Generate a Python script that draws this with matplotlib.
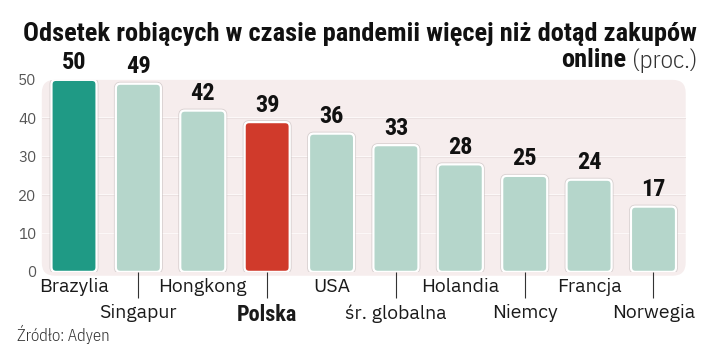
import matplotlib.pyplot as plt
from matplotlib.patches import FancyBboxPatch

countries = ["Brazylia", "Singapur", "Hongkong", "Polska", "USA",
             "śr. globalna", "Holandia", "Niemcy", "Francja", "Norwegia"]
values = [50, 49, 42, 39, 36, 33, 28, 25, 24, 17]
yticks = [0, 10, 20, 30, 40, 50]

LIGHT = ['IBM Plex Sans Condensed', 'Roboto Condensed', 'Liberation Sans', 'DejaVu Sans']
PLEX = ['IBM Plex Sans', 'Roboto', 'Liberation Sans', 'DejaVu Sans']
BOLD = ['Roboto Condensed', 'Liberation Sans', 'DejaVu Sans']
plt.rcParams['font.family'] = LIGHT

colors = ["#b5d6cb"] * len(values)
colors[0] = "#1f9a85"
colors[3] = "#d03a2b"

fig = plt.figure(figsize=(7.21, 3.63), dpi=100)
ax = fig.add_axes([0.058, 0.251, 0.893, 0.529])
ax.set_xlim(-0.5, 9.5)
ax.set_ylim(0, 50)

# rounded pink background of the plot area
bg = FancyBboxPatch((0, -0.02), 1, 1.02, boxstyle="round,pad=0,rounding_size=0.02",
                    transform=ax.transAxes, facecolor="#f6eded", edgecolor="none",
                    mutation_aspect=3.35, zorder=0, clip_on=False)
ax.add_patch(bg)
ax.set_facecolor("none")

for y in yticks[1:-1]:
    ax.axhline(y, color="#ebe0e0", lw=0.8, zorder=1)
    ax.axhline(y + 0.25, color="#fcf8f8", lw=0.8, zorder=1)

x = list(range(len(values)))
bars = ax.bar(x, values, width=0.70, color=colors)
aspect = (ax.bbox.width / 10) / (ax.bbox.height / 50)
for rect, c in zip(bars, colors):
    bx, bw, bh = rect.get_x(), rect.get_width(), rect.get_height()
    rect.remove()
    shadow = FancyBboxPatch((bx, 0), bw, bh, boxstyle="round,pad=0,rounding_size=0.07",
                            mutation_aspect=aspect, facecolor="none",
                            edgecolor="#c4bcbc", linewidth=2.8, alpha=0.6, zorder=2)
    body = FancyBboxPatch((bx, 0), bw, bh, boxstyle="round,pad=0,rounding_size=0.07",
                          mutation_aspect=aspect, facecolor=c,
                          edgecolor="white", linewidth=1.6, zorder=3)
    ax.add_patch(shadow)
    ax.add_patch(body)

for xi, v in zip(x, values):
    ax.text(xi, v + 1.4, str(v), ha="center", va="bottom", fontsize=17.5,
            fontweight="bold", color="#111111", family=BOLD)

ax.set_yticks(yticks)
ax.tick_params(axis="y", length=0, labelsize=11, labelcolor="#555555", pad=4)
for lbl in ax.get_yticklabels():
    lbl.set_family(PLEX)
    lbl.set_fontweight(300)

ax.set_xticks(x[0::2])
ax.set_xticklabels(countries[0::2])
ax.set_xticks(x[1::2], minor=True)
ax.set_xticklabels(countries[1::2], minor=True)
ax.tick_params(axis="x", which="major", length=0, pad=4.7, labelsize=14, labelcolor="#1a1a1a")
ax.tick_params(axis="x", which="minor", length=18.5, width=0.8, color="#333333",
               pad=4.7, labelsize=14, labelcolor="#1a1a1a")
for lbl in ax.get_xticklabels(which="both"):
    lbl.set_family(PLEX)
    lbl.set_fontweight(300)
    if lbl.get_text() == "Polska":
        lbl.set_family(BOLD)
        lbl.set_fontweight("bold")
        lbl.set_fontsize(16)

for s in ax.spines.values():
    s.set_visible(False)

fig.text(0.967, 0.905, "Odsetek robiących w czasie pandemii więcej niż dotąd zakupów",
         ha="right", va="center", fontsize=19, fontweight="bold", color="#111111",
         family=BOLD)
t2 = fig.text(0.967, 0.833, "(proc.)", ha="right", va="center", fontsize=18,
              fontweight=300, color="#333333")
fig.canvas.draw()
bb = t2.get_window_extent()
fig.text(bb.x0 / fig.bbox.width - 0.008, 0.835, "online", ha="right", va="center",
         fontsize=19, fontweight="bold", color="#111111", family=BOLD)

fig.text(0.024, 0.08, "Źródło: Adyen", ha="left", va="center", fontsize=12,
         fontweight=300, color="#333333")

fig.savefig("out.png", dpi=100)
